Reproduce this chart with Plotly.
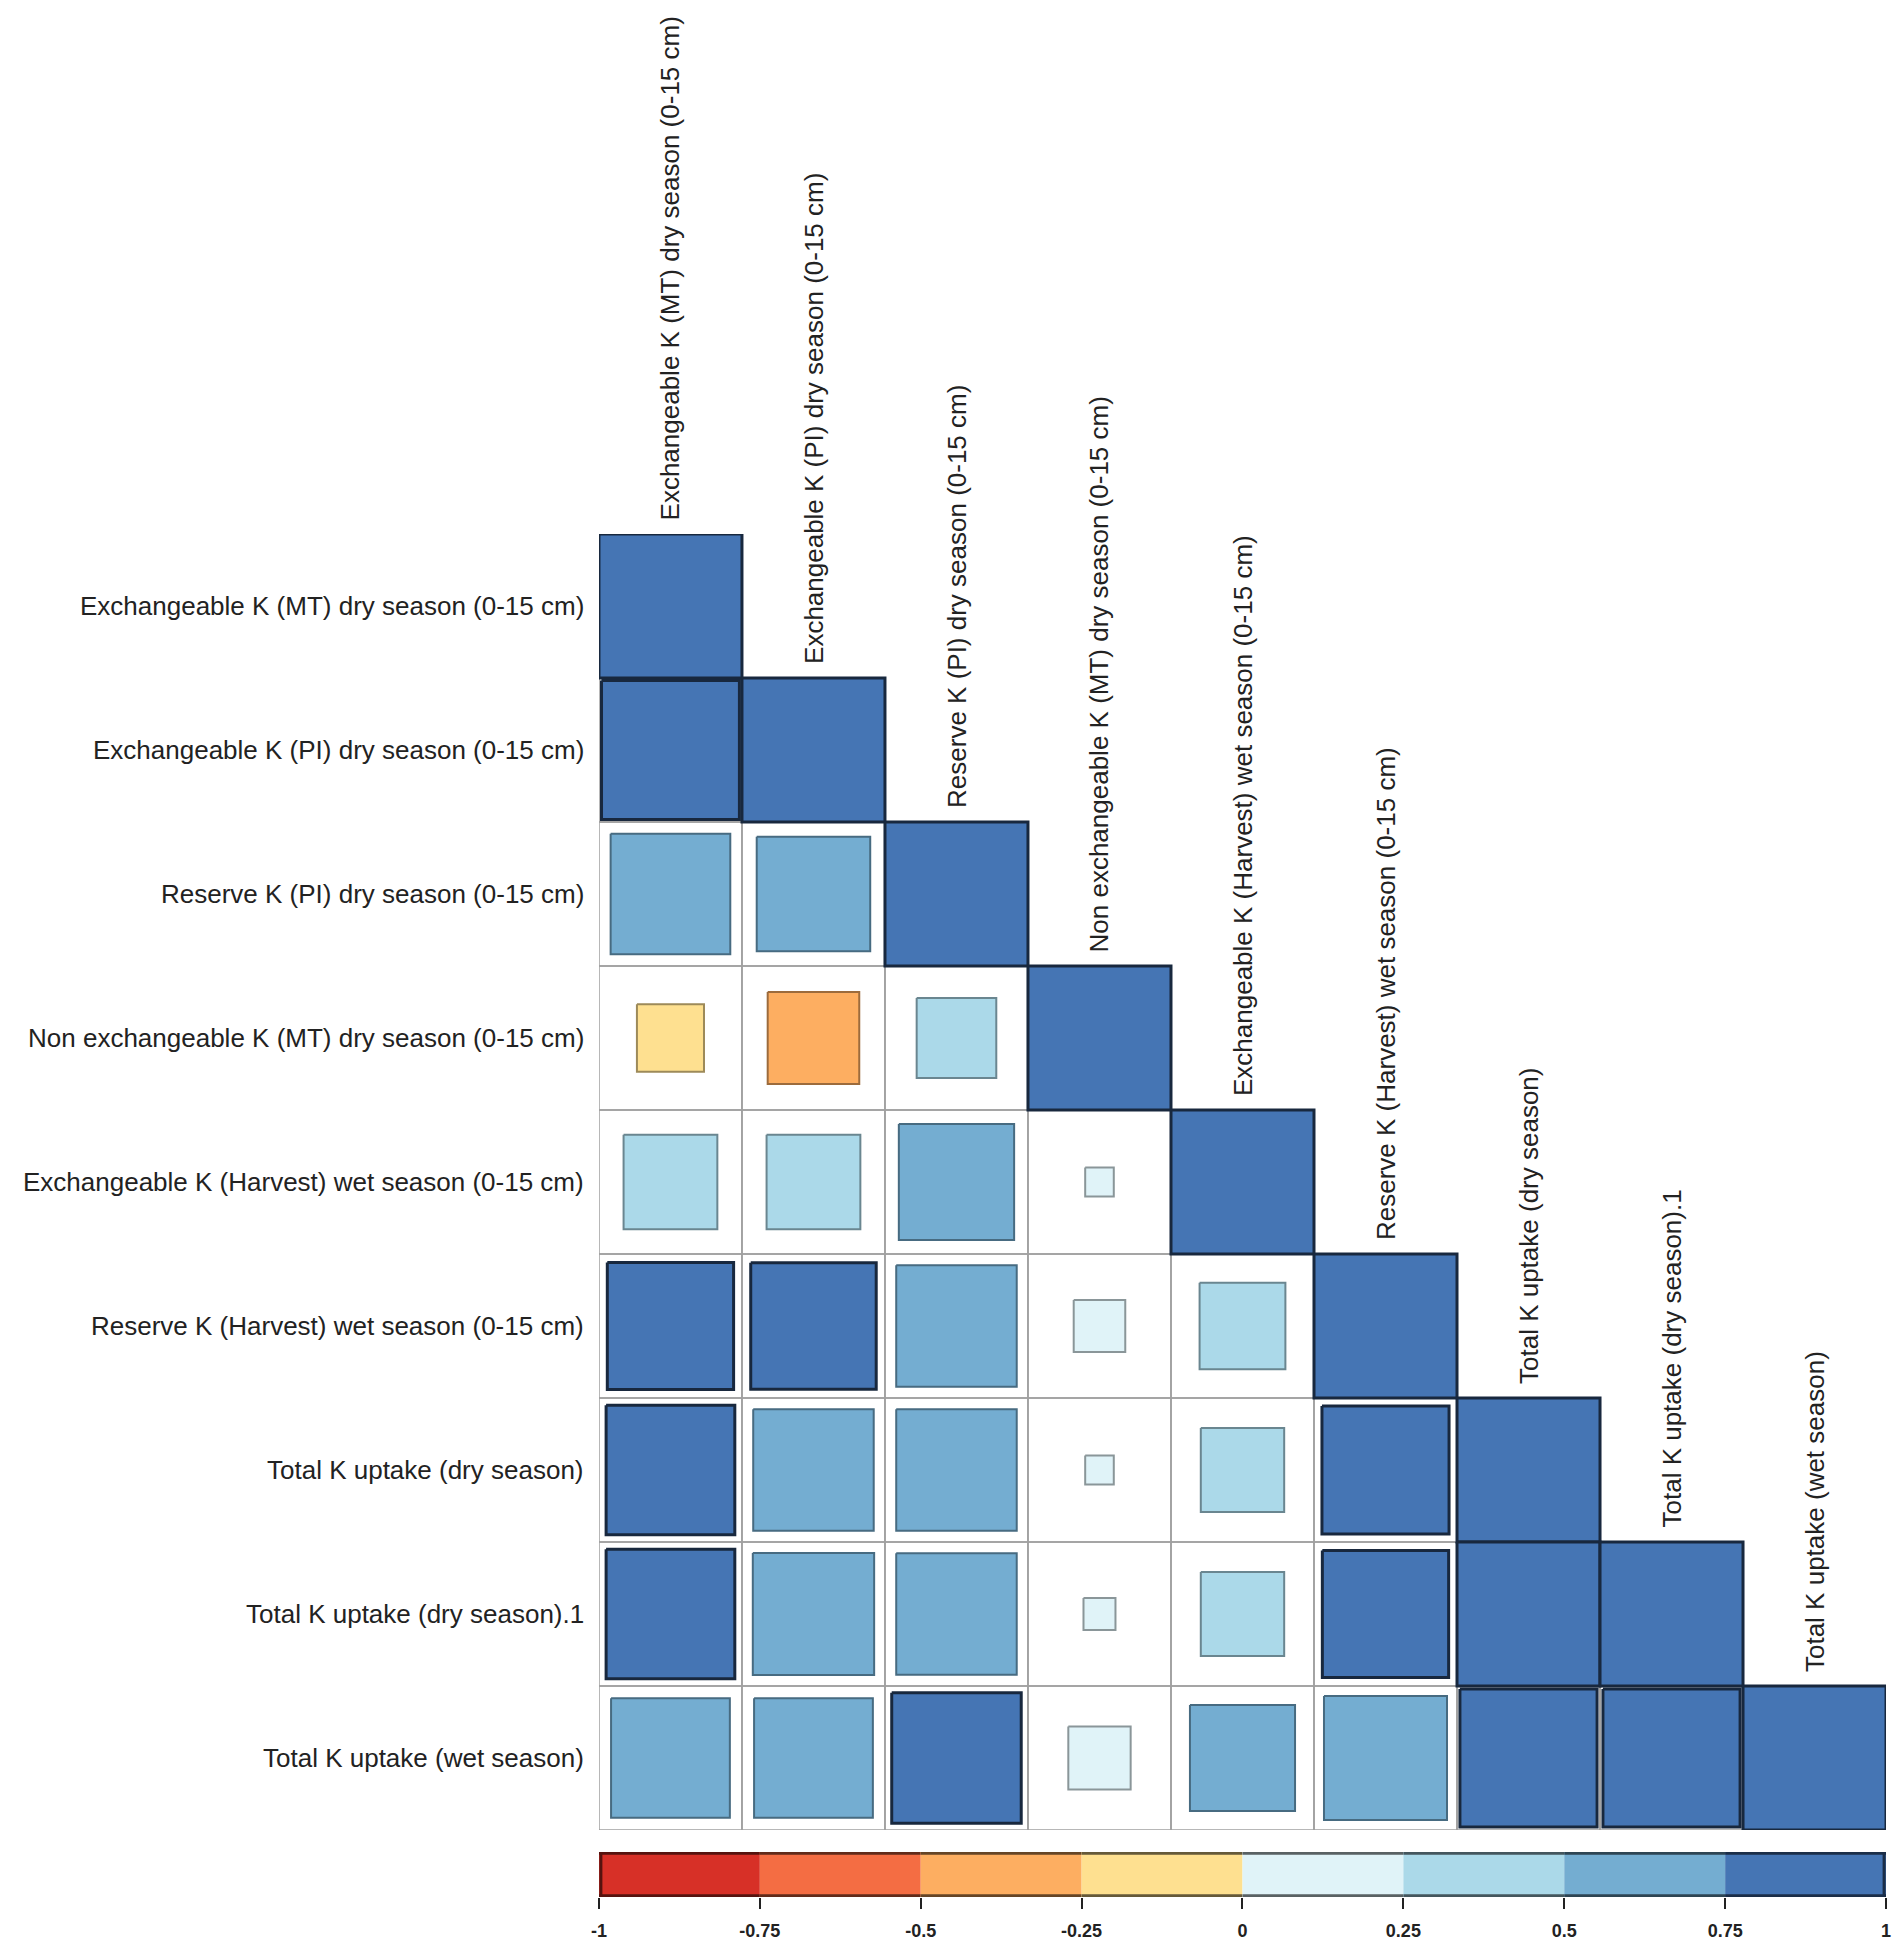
import plotly.graph_objects as go

# ---------------- data ----------------
variables = [
    "Exchangeable K (MT) dry season (0-15 cm)",
    "Exchangeable K (PI) dry season (0-15 cm)",
    "Reserve K (PI) dry season (0-15 cm)",
    "Non exchangeable K (MT) dry season (0-15 cm)",
    "Exchangeable K (Harvest) wet season (0-15 cm)",
    "Reserve K (Harvest) wet season (0-15 cm)",
    "Total K uptake (dry season)",
    "Total K uptake (dry season).1",
    "Total K uptake (wet season)",
]

# lower triangle of the correlation matrix (row i, columns 0..i)
r_exch_mt = [1.00]
r_exch_pi = [0.93, 1.00]
r_res_pi = [0.70, 0.63, 1.00]
r_nonexch_mt = [-0.22, -0.41, 0.31, 1.00]
r_exch_harv = [0.43, 0.43, 0.65, 0.04, 1.00]
r_res_harv = [0.78, 0.77, 0.71, 0.13, 0.36, 1.00]
r_uptake_dry = [0.81, 0.71, 0.71, 0.04, 0.34, 0.79, 1.00]
r_uptake_dry1 = [0.81, 0.72, 0.71, 0.05, 0.34, 0.78, 1.00, 1.00]
r_uptake_wet = [0.69, 0.69, 0.82, 0.19, 0.54, 0.74, 0.92, 0.92, 1.00]
corr_lower = [r_exch_mt, r_exch_pi, r_res_pi, r_nonexch_mt, r_exch_harv,
              r_res_harv, r_uptake_dry, r_uptake_dry1, r_uptake_wet]

bin_edges = [-1.0, -0.75, -0.5, -0.25, 0.0, 0.25, 0.5, 0.75, 1.0]
bin_colors = ["#D73027", "#F46D43", "#FDAE61", "#FEE090",
              "#E0F3F8", "#ABD9E9", "#74ADD1", "#4575B4"]
tick_labels = ["-1", "-0.75", "-0.5", "-0.25", "0", "0.25", "0.5", "0.75", "1"]

# ---------------- layout geometry (pixels) ----------------
W, H = 1887, 1936
OFF = 8
def px_x(X):
    return (X - OFF) / W
def px_y(Y):
    return 1 - (Y - OFF) / H

grid_left, grid_right = 595, 1891
grid_top, grid_bottom = 534, 1830
cb_top, cb_bottom = 1852, 1897

FONT = "Liberation Sans, Arial, sans-serif"
TXT = "#222222"


def darker(hexc, f=0.55):
    h = hexc.lstrip("#")
    r, g, b = int(h[0:2], 16), int(h[2:4], 16), int(h[4:6], 16)
    return "rgb(%d,%d,%d)" % (int(r * f), int(g * f), int(b * f))


def bin_index(v):
    for k in range(len(bin_colors)):
        if v <= bin_edges[k + 1]:
            return k
    return len(bin_colors) - 1


n = len(variables)
fig = go.Figure()

# grid of the lower-triangle cells
gx, gy = [], []
for i in range(n):
    for j in range(i):
        gx += [j - 0.5, j + 0.5, j + 0.5, j - 0.5, j - 0.5, None]
        gy += [i - 0.5, i - 0.5, i + 0.5, i + 0.5, i - 0.5, None]
fig.add_trace(go.Scatter(x=gx, y=gy, mode="lines",
                         line=dict(color="#a0a0a0", width=1.6),
                         hoverinfo="skip", showlegend=False))

# squares
for i, row in enumerate(corr_lower):
    for j, v in enumerate(row):
        h = (abs(v) ** 0.5) / 2
        k = bin_index(v)
        c = bin_colors[k]
        strong = abs(v) > 0.75
        fig.add_trace(go.Scatter(
            x=[j - h, j + h, j + h, j - h, j - h],
            y=[i - h, i - h, i + h, i + h, i - h],
            mode="lines", fill="toself", fillcolor=c,
            line=dict(color=darker(c, 0.35 if strong else 0.62),
                      width=3 if strong else 2),
            hovertext="%s / %s: %.2f" % (variables[i], variables[j], v),
            hoverinfo="text", showlegend=False))

# colour legend bar
for k, c in enumerate(bin_colors):
    x0, x1 = bin_edges[k], bin_edges[k + 1]
    fig.add_trace(go.Scatter(x=[x0, x1, x1, x0, x0], y=[0, 0, 1, 1, 0],
                             mode="lines", fill="toself", fillcolor=c,
                             line=dict(width=0), xaxis="x2", yaxis="y2",
                             hoverinfo="skip", showlegend=False))
    ex, ey = [x0, x1, None, x0, x1], [0.03, 0.03, None, 0.97, 0.97]
    if k == 0:
        ex += [None, x0 + 0.003, x0 + 0.003]
        ey += [None, 0, 1]
    if k == len(bin_colors) - 1:
        ex += [None, x1 - 0.003, x1 - 0.003]
        ey += [None, 0, 1]
    fig.add_trace(go.Scatter(x=ex, y=ey, mode="lines",
                             line=dict(color=darker(c, 0.4), width=3),
                             xaxis="x2", yaxis="y2", hoverinfo="skip", showlegend=False))

annotations = []
for i, name in enumerate(variables):
    annotations.append(dict(x=-0.5, y=i, xref="x", yref="y", text=name,
                            showarrow=False, xanchor="right", yanchor="middle",
                            xshift=-13, font=dict(family=FONT, size=26, color=TXT)))
    annotations.append(dict(x=i, y=i - 0.5, xref="x", yref="y", text=name,
                            showarrow=False, xanchor="center", yanchor="bottom",
                            textangle=-90, yshift=12,
                            font=dict(family=FONT, size=26, color=TXT)))

fig.update_layout(
    width=W, height=H,
    margin=dict(l=0, r=0, t=0, b=0),
    paper_bgcolor="white", plot_bgcolor="white",
    showlegend=False,
    xaxis=dict(domain=[px_x(grid_left), px_x(grid_right)], range=[-0.5, n - 0.5],
               visible=False, fixedrange=True),
    yaxis=dict(domain=[px_y(grid_bottom), px_y(grid_top)], range=[n - 0.5, -0.5],
               visible=False, fixedrange=True),
    xaxis2=dict(domain=[px_x(grid_left), px_x(grid_right)], range=[-1, 1],
                anchor="y2", tickmode="array", tickvals=bin_edges, ticktext=tick_labels,
                ticks="outside", ticklen=11, tickwidth=2, tickcolor="#222",
                showgrid=False, zeroline=False, showline=False,
                tickfont=dict(family=FONT, size=18, color=TXT, weight="bold"),
                ticklabelstandoff=6, ticklabeloverflow="allow", fixedrange=True),
    yaxis2=dict(domain=[px_y(cb_bottom), px_y(cb_top)], range=[0, 1],
                anchor="x2", visible=False, fixedrange=True),
    annotations=annotations,
)

fig.write_html("out.html")
